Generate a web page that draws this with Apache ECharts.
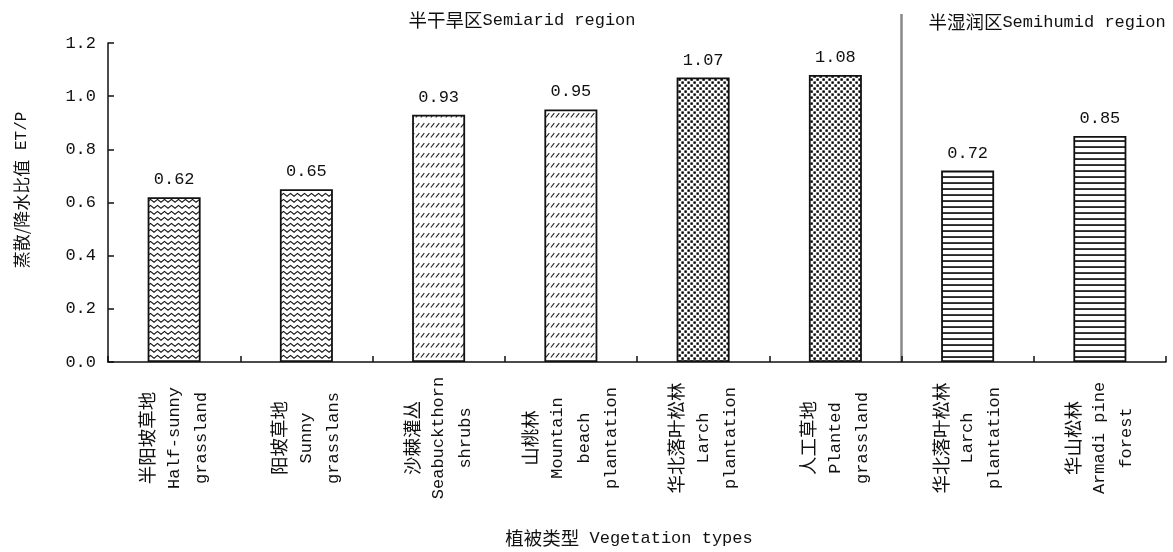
<!DOCTYPE html>
<html>
<head>
<meta charset="utf-8">
<script src="https://cdn.jsdelivr.net/npm/echarts@6/dist/echarts.min.js"></script>
<style>
html,body{margin:0;padding:0;background:#fff;}
#chart{width:1173px;height:552px;}
</style>
</head>
<body>
<div id="chart"></div>
<script>
// ---- data ----
var catCn = ['半阳坡草地', '阳坡草地', '沙棘灌丛', '山桃林', '华北落叶松林', '人工草地', '华北落叶松林', '华山松林'];
var catEn = ['Half-sunny\ngrassland', 'Sunny\ngrasslans', 'Seabuckthorn\nshrubs', 'Mountain\nbeach\nplantation',
             'Larch\nplantation', 'Planted\ngrassland', 'Larch\nplantation', 'Armadi pine\nforest'];
var values = [0.62, 0.65, 0.93, 0.95, 1.07, 1.08, 0.72, 0.85];
var patternKinds = ['wave', 'wave', 'slash', 'slash', 'dots', 'dots', 'hline', 'hline'];
var yTicks = [0, 0.2, 0.4, 0.6, 0.8, 1.0, 1.2];
var regionSemiarid = ['半干旱区', 'Semiarid region'];
var regionSemihumid = ['半湿润区', 'Semihumid region'];
var yNameParts = ['蒸散/降水比值', ' ET/P'];
var xNameParts = ['植被类型', ' Vegetation types'];

var MONO = '"Liberation Mono","Noto Sans CJK SC",monospace';
var CJK = '"Noto Sans CJK SC","Liberation Mono",sans-serif';
var FS_EN = 17;
var FS_CN = 18.5;

function makePattern(kind) {
  var c = document.createElement('canvas');
  var ctx;
  if (kind === 'wave') {
    c.width = 7; c.height = 6;
    ctx = c.getContext('2d');
    ctx.fillStyle = '#fff'; ctx.fillRect(0, 0, 7, 6);
    ctx.strokeStyle = '#111'; ctx.lineWidth = 1.2;
    ctx.beginPath(); ctx.moveTo(-0.5, 4.6); ctx.lineTo(3.5, 1.4); ctx.lineTo(7.5, 4.6); ctx.stroke();
  } else if (kind === 'slash') {
    c.width = 5; c.height = 10;
    ctx = c.getContext('2d');
    ctx.fillStyle = '#fff'; ctx.fillRect(0, 0, 5, 10);
    ctx.strokeStyle = '#222'; ctx.lineWidth = 1.1;
    ctx.beginPath(); ctx.moveTo(0.8, 7.5); ctx.lineTo(4.3, 3.2); ctx.stroke();
  } else if (kind === 'dots') {
    c.width = 6; c.height = 6;
    ctx = c.getContext('2d');
    ctx.fillStyle = '#fff'; ctx.fillRect(0, 0, 6, 6);
    ctx.fillStyle = '#000';
    ctx.fillRect(0.4, 0.4, 2.4, 2.4);
    ctx.fillRect(3.4, 3.4, 2.4, 2.4);
  } else {
    c.width = 4; c.height = 6;
    ctx = c.getContext('2d');
    ctx.fillStyle = '#fff'; ctx.fillRect(0, 0, 4, 6);
    ctx.fillStyle = '#111';
    ctx.fillRect(0, 2.2, 4, 1.7);
  }
  return c;
}

var barData = values.map(function (v, i) {
  return {
    value: v,
    itemStyle: {
      color: { image: makePattern(patternKinds[i]), repeat: 'repeat' },
      borderColor: '#111',
      borderWidth: 1.8
    }
  };
});

var categories = catCn.map(function (c, i) { return i; });

var chart = echarts.init(document.getElementById('chart'), null, { renderer: 'canvas' });

var option = {
  backgroundColor: '#fff',
  animation: false,
  grid: { left: 108, right: 7, top: 43, bottom: 190, containLabel: false },
  xAxis: {
    type: 'category',
    data: categories,
    axisLine: { lineStyle: { color: '#111', width: 1.5 } },
    axisTick: { show: true, inside: true, length: 6, alignWithLabel: false, lineStyle: { color: '#111', width: 1.5 } },
    axisLabel: {
      interval: 0,
      rotate: 90,
      align: 'center',
      verticalAlign: 'middle',
      margin: 76,
      formatter: function (val) {
        var i = +val;
        var en = catEn[i].split('\n').map(function (s) { return '{e|' + s + '}'; }).join('\n');
        return '{c|' + catCn[i] + '}\n' + en;
      },
      rich: {
        c: { fontFamily: CJK, fontSize: FS_CN, color: '#111', lineHeight: 27, align: 'center' },
        e: { fontFamily: MONO, fontSize: FS_EN, color: '#111', lineHeight: 27, align: 'center' }
      }
    }
  },
  yAxis: {
    type: 'value',
    min: 0,
    max: 1.2,
    interval: 0.2,
    splitLine: { show: false },
    axisLine: { show: true, lineStyle: { color: '#111', width: 1.5 } },
    axisTick: { show: true, inside: true, length: 6, lineStyle: { color: '#111', width: 1.5 } },
    axisLabel: {
      margin: 12,
      fontFamily: MONO,
      fontSize: FS_EN,
      color: '#111',
      formatter: function (v) { return v.toFixed(1); }
    }
  },
  series: [{
    type: 'bar',
    data: barData,
    barWidth: 53,
    label: {
      show: true,
      position: 'top',
      distance: 9,
      fontFamily: MONO,
      fontSize: FS_EN,
      color: '#111',
      formatter: function (p) { return p.value.toFixed(2); }
    }
  }]
};
chart.setOption(option);

// decorations
var x5 = chart.convertToPixel({ xAxisIndex: 0 }, 5);
var x6 = chart.convertToPixel({ xAxisIndex: 0 }, 6);
var sepX = (x5 + x6) / 2;
var y0 = chart.convertToPixel({ yAxisIndex: 0 }, 0);

function richTitle(parts) {
  return '{c|' + parts[0] + '}{e|' + parts[1] + '}';
}
var titleRich = {
  c: { fontFamily: CJK, fontSize: FS_CN, fill: '#111' },
  e: { fontFamily: MONO, fontSize: FS_EN, fill: '#111' }
};
var nameRich = {
  c: { fontFamily: CJK, fontSize: 17, fill: '#111' },
  e: { fontFamily: MONO, fontSize: 16, fill: '#111' }
};

chart.setOption({
  graphic: [
    {
      type: 'line', silent: true, z: 0,
      shape: { x1: sepX, y1: 14, x2: sepX, y2: y0 },
      style: { stroke: '#888', lineWidth: 2.5 }
    },
    {
      type: 'text', x: 522, y: 20,
      style: { text: richTitle(regionSemiarid), rich: titleRich, align: 'center', verticalAlign: 'middle', fill: '#111' }
    },
    {
      type: 'text', x: 1047, y: 22,
      style: { text: richTitle(regionSemihumid), rich: titleRich, align: 'center', verticalAlign: 'middle', fill: '#111' }
    },
    {
      type: 'text', x: 22, y: 190, rotation: Math.PI / 2,
      style: { text: richTitle(yNameParts), rich: nameRich, align: 'center', verticalAlign: 'middle', fill: '#111' }
    },
    {
      type: 'text', x: 629, y: 538,
      style: { text: richTitle(xNameParts), rich: titleRich, align: 'center', verticalAlign: 'middle', fill: '#111' }
    }
  ]
});
</script>
</body>
</html>
